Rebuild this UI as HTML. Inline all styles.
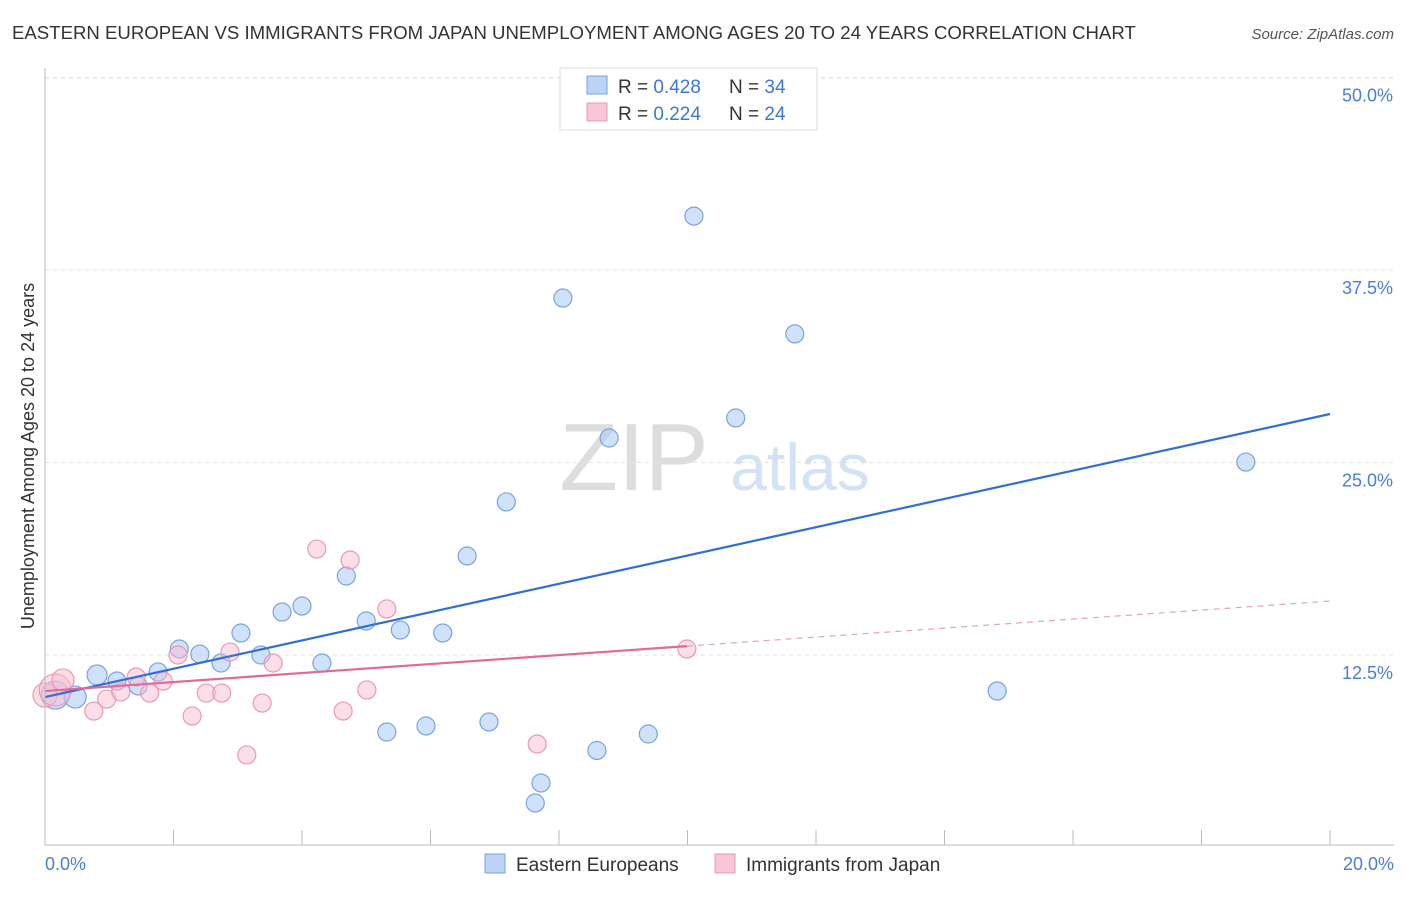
<!DOCTYPE html>
<html><head><meta charset="utf-8"><style>
body{margin:0;background:#fff;font-family:"Liberation Sans",sans-serif}
svg text{font-family:"Liberation Sans",sans-serif}
</style></head><body>
<svg id="c" width="1406" height="892">
<text x="12" y="39" font-size="18.6" fill="#333">EASTERN EUROPEAN VS IMMIGRANTS FROM JAPAN UNEMPLOYMENT AMONG AGES 20 TO 24 YEARS CORRELATION CHART</text>
<text x="1394" y="39" font-size="15" fill="#555" font-style="italic" text-anchor="end">Source: ZipAtlas.com</text>
<text x="634" y="490" font-size="96" fill="#ddd" font-family="Liberation Serif" text-anchor="middle">ZIP</text>
<text x="800" y="490" font-size="66" fill="#d3e2f5" text-anchor="middle">atlas</text>
<text transform="translate(34,456) rotate(-90)" font-size="18" fill="#333" text-anchor="middle">Unemployment Among Ages 20 to 24 years</text>
<g id="grid"></g><g id="marks"></g>
<line x1="45" y1="68" x2="45" y2="845" stroke="#bbb"/>
<line x1="45" y1="845" x2="1394" y2="845" stroke="#bbb"/>
<text x="45" y="870" font-size="18" fill="#4a7fd6">0.0%</text>
<text x="1394" y="870" font-size="18" fill="#4a7fd6" text-anchor="end">20.0%</text>
<g>
<rect x="560" y="68" width="257" height="62" fill="#fff" stroke="#ddd"/>
<rect x="587" y="76" width="20" height="18" fill="#bcd3f5" stroke="#7aa3e0"/>
<rect x="587" y="103" width="20" height="18" fill="#f8c6d5" stroke="#e89ab3"/>
<text x="618" y="93" font-size="19" fill="#333">R = <tspan fill="#3d78d8">0.428</tspan></text>
<text x="729" y="93" font-size="19" fill="#333">N = <tspan fill="#3d78d8">34</tspan></text>
<text x="618" y="120" font-size="19" fill="#333">R = <tspan fill="#3d78d8">0.224</tspan></text>
<text x="729" y="120" font-size="19" fill="#333">N = <tspan fill="#3d78d8">24</tspan></text>
</g>
<g>
<rect x="485" y="854" width="20" height="19" fill="#bcd3f5" stroke="#7aa3e0"/>
<text x="516" y="871" font-size="19" fill="#333">Eastern Europeans</text>
<rect x="715" y="854" width="20" height="19" fill="#f8c6d5" stroke="#e89ab3"/>
<text x="746" y="871" font-size="19" fill="#333">Immigrants from Japan</text>
</g>
</svg>
<script>
const yTicks=[12.5,25,37.5,50];
const yTickLabels=["12.5%","25.0%","37.5%","50.0%"];
const xTicks=[2,4,6,8,10,12,14,16,18,20];
const blueX=[0.16,0.47,0.81,1.12,1.45,1.76,2.09,2.41,2.74,3.05,3.36,3.69,4.00,4.31,4.69,5.00,5.53,6.19,5.32,5.93,6.57,6.91,7.18,7.72,7.63,8.06,8.59,8.78,9.39,10.10,10.75,11.67,14.82,18.69];
const blueY=[9.90,9.77,11.20,10.81,10.49,11.40,12.89,12.56,11.98,13.93,12.50,15.29,15.68,11.98,17.63,14.71,14.12,13.93,7.50,7.89,18.93,8.15,22.44,4.19,2.89,35.68,6.30,26.59,7.37,41.00,27.89,33.35,10.16,25.03];
const blueR=[14,11,10,9,9,9,9,9,9,9,9,9,9,9,9,9,9,9,9,9,9,9,9,9,9,9,9,9,9,9,9,9,9,9];
const pinkX=[0,0.16,0.28,0.76,0.96,1.18,1.42,1.63,1.84,2.07,2.29,2.51,2.75,2.88,3.14,3.38,3.55,4.23,4.64,4.75,5.01,5.32,7.66,9.99];
const pinkY=[9.90,10.23,10.88,8.86,9.64,10.10,11.07,10.03,10.81,12.50,8.54,10.03,10.03,12.69,6.01,9.38,11.98,19.38,8.86,18.67,10.23,15.49,6.72,12.89];
const pinkR=[12,16,11,9,9,9,9,9,9,9,9,9,9,9,9,9,9,9,9,9,9,9,9,9];
const blueLine=[9.77,28.15];
const pinkLine=[10.16,16.0];
const pinkSolidEnd=9.99;
const X=v=>45+v*64.25, Y=v=>847.5-v*15.4;
const NS="http://www.w3.org/2000/svg";
function mk(p,t,a){const e=document.createElementNS(NS,t);for(const k in a)e.setAttribute(k,a[k]);p.appendChild(e);return e;}
const g=document.getElementById('grid'),m=document.getElementById('marks');
mk(g,'line',{x1:45,x2:1394,y1:78,y2:78,stroke:'#e3e3e3','stroke-dasharray':'4,4'});
yTicks.forEach((t,i)=>{
 const l=mk(g,'line',{x1:45,x2:1394,y1:Y(t),y2:Y(t),stroke:'#e3e3e3','stroke-dasharray':'4,4'});
 
 
 const tx=mk(g,'text',{x:1393,y:Y(t)+24,'font-size':18,fill:'#4a7fd6','text-anchor':'end'});
 tx.textContent=yTickLabels[i];
 
 
});
xTicks.forEach(t=>{
 const l=mk(g,'line',{x1:X(t),x2:X(t),y1:830,y2:845,stroke:'#bbb'});
 
 
});
blueX.forEach((x,i)=>{
 const c=mk(m,'circle',{cx:X(x),cy:Y(blueY[i]),r:blueR[i],fill:'rgba(170,200,245,0.55)',stroke:'#7aa3e0','stroke-width':1.2});
 
 
});
pinkX.forEach((x,i)=>{
 const c=mk(m,'circle',{cx:X(x),cy:Y(pinkY[i]),r:pinkR[i],fill:'rgba(248,190,210,0.5)',stroke:'#e89ab3','stroke-width':1.2});
 
 
});
const bl=mk(m,'line',{x1:X(0),y1:Y(blueLine[0]),x2:X(20),y2:Y(blueLine[1]),stroke:'#2f6fd6','stroke-width':2.2});


const pAt=v=>pinkLine[0]+(pinkLine[1]-pinkLine[0])*v/20;
const pl=mk(m,'line',{x1:X(0),y1:Y(pinkLine[0]),x2:X(pinkSolidEnd),y2:Y(pAt(pinkSolidEnd)),stroke:'#e06b95','stroke-width':2.2});


const pd=mk(m,'line',{x1:X(pinkSolidEnd),y1:Y(pAt(pinkSolidEnd)),x2:X(20),y2:Y(pinkLine[1]),stroke:'#e8a0b8','stroke-width':1.2,'stroke-dasharray':'6,5'});


</script>
</body></html>
